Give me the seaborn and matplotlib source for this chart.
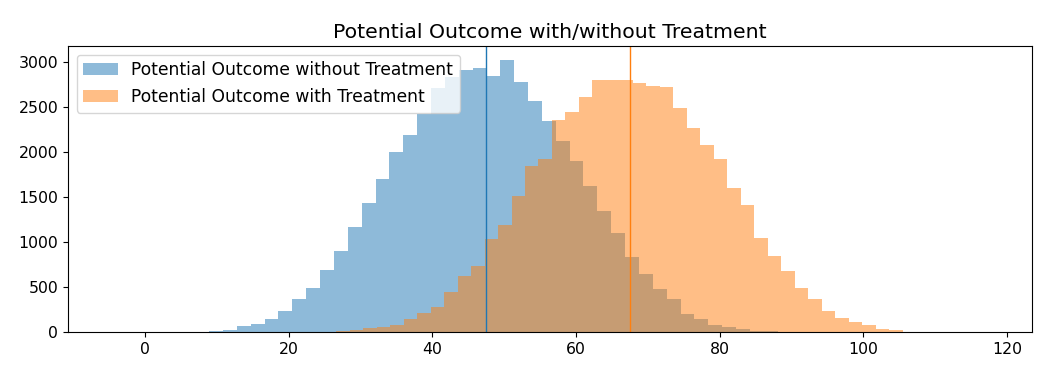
import numpy as np
import matplotlib
matplotlib.use('Agg')
import matplotlib.pyplot as plt
import seaborn as sns

# histogram counts, one value per bin
BLUE_FIRST_EDGE = 7.02
BLUE_BIN_WIDTH = 1.93
blue_counts = [4, 9, 22, 68, 95, 150, 235, 368, 494, 689, 900, 1170, 1430, 1707,
               2005, 2190, 2425, 2711, 2840, 2915, 2933, 2850, 3025, 2784, 2572,
               2345, 2122, 1900, 1626, 1348, 1104, 838, 650, 483, 372, 196, 150,
               84, 56, 32, 17, 8, 3]

ORANGE_FIRST_EDGE = 26.64
ORANGE_BIN_WIDTH = 1.877
orange_counts = [8, 19, 41, 59, 82, 141, 208, 278, 445, 622, 733, 1031, 1189, 1514,
                 1843, 1928, 2357, 2446, 2612, 2805, 2805, 2800, 2768, 2738, 2723,
                 2490, 2268, 2076, 1921, 1602, 1410, 1047, 844, 680, 485, 363, 237,
                 155, 114, 74, 33, 22, 5]

BLUE_MEAN = 47.55
ORANGE_MEAN = 67.5

LABELS = ["Potential Outcome without Treatment", "Potential Outcome with Treatment"]
TITLE = "Potential Outcome with/without Treatment"

plt.rcParams['font.size'] = 11.3

fig, ax = plt.subplots(figsize=(10.4, 3.8), dpi=100)
fig.subplots_adjust(left=0.0654, right=0.9923, top=0.879, bottom=0.126)

series = [(blue_counts, BLUE_FIRST_EDGE, BLUE_BIN_WIDTH, "C0", LABELS[0]),
          (orange_counts, ORANGE_FIRST_EDGE, ORANGE_BIN_WIDTH, "C1", LABELS[1])]
for counts, first, width, color, label in series:
    edges = first + width * np.arange(len(counts) + 1)
    centers = (edges[:-1] + edges[1:]) / 2
    sns.histplot(x=centers, weights=counts, bins=edges.tolist(), color=color,
                 alpha=0.5, linewidth=0, ax=ax, label=label)

ax.axvline(BLUE_MEAN, color="C0", linewidth=1)
ax.axvline(ORANGE_MEAN, color="C1", linewidth=1)

ax.set_xlim(-10.7, 123.5)
ax.set_ylim(0, 3180)
ax.set_xlabel("")
ax.set_ylabel("")
ax.set_title(TITLE, fontsize=14.7)
ax.legend(loc="upper left", fontsize=12.3)

fig.savefig("out.png", dpi=100)
